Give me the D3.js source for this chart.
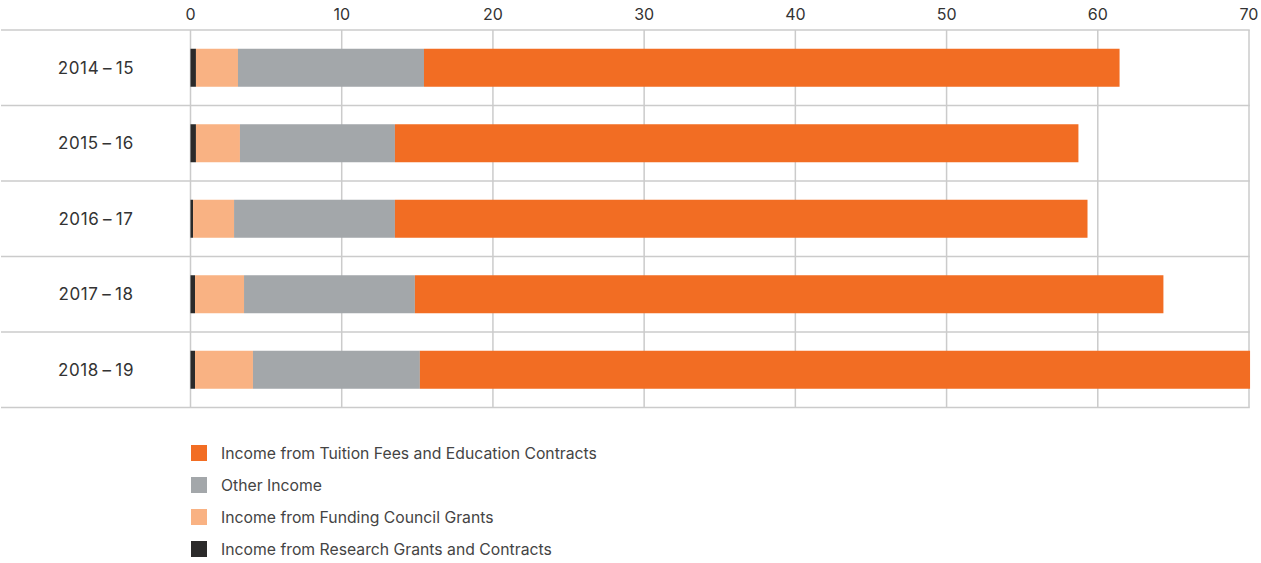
<!DOCTYPE html>
<html>
<head>
<meta charset="utf-8">
<script src="https://cdn.jsdelivr.net/npm/d3@7"></script>
<style>
  body { margin: 0; background: #fff; }
  svg text { font-family: Inter, "Noto Sans", sans-serif; }
</style>
</head>
<body>
<svg id="chart" width="1261" height="563"></svg>
<script>
var years = ["2014\u2009–\u200915", "2015\u2009–\u200916", "2016\u2009–\u200917", "2017\u2009–\u200918", "2018\u2009–\u200919"];
var research = [0.36, 0.36, 0.17, 0.3, 0.3];
var funding = [2.78, 2.91, 2.71, 3.24, 3.83];
var other = [12.3, 10.25, 10.64, 11.3, 11.04];
var tuition = [46.0, 45.2, 45.8, 49.5, 54.9];
var xTicks = [0, 10, 20, 30, 40, 50, 60, 70];

var seriesNames = ["Income from Research Grants and Contracts", "Income from Funding Council Grants",
  "Other Income", "Income from Tuition Fees and Education Contracts"];
var seriesColors = ["#2b2a2a", "#f9b283", "#a3a7aa", "#f26d23"];

var svg = d3.select("#chart");
var x = d3.scaleLinear().domain([0, 70]).range([190.5, 1249]);
var y = d3.scaleBand().domain(years).range([30, 407.5]).paddingInner(0).paddingOuter(0);

// build rows for the stack
var rows = years.map(function(yr, i) {
  return {year: yr, research: research[i], funding: funding[i], other: other[i], tuition: tuition[i]};
});
var keys = ["research", "funding", "other", "tuition"];
var stack = d3.stack().keys(keys)(rows);

// grid
var grid = svg.append("g");
grid.selectAll("line.v")
  .data(xTicks)
  .enter().append("line")
    .attr("x1", function(d) { return x(d); })
    .attr("x2", function(d) { return x(d); })
    .attr("y1", 30).attr("y2", 407.5)
    .attr("stroke", "#cbcbcb").attr("stroke-width", 1.5);

var hLines = years.map(function(d) { return y(d); }).concat([407.5]);
grid.selectAll("line.h")
  .data(hLines)
  .enter().append("line")
    .attr("x1", 1).attr("x2", x(70) + 0.75)
    .attr("y1", function(d) { return d; })
    .attr("y2", function(d) { return d; })
    .attr("stroke", "#cbcbcb").attr("stroke-width", 1.5);

// bars
var barH = 38;
svg.append("g").selectAll("g")
  .data(stack)
  .enter().append("g")
    .attr("fill", function(d, i) { return seriesColors[i]; })
  .selectAll("rect")
  .data(function(d) { return d; })
  .enter().append("rect")
    .attr("x", function(d) { return x(d[0]); })
    .attr("width", function(d) { return x(d[1]) - x(d[0]); })
    .attr("y", function(d) { return y(d.data.year) + (y.bandwidth() - barH) / 2; })
    .attr("height", barH);

// top axis labels
svg.append("g").selectAll("text")
  .data(xTicks)
  .enter().append("text")
    .attr("x", function(d) { return x(d); })
    .attr("y", 20)
    .attr("text-anchor", "middle")
    .attr("font-size", 16)
    .attr("fill", "#333")
    .text(function(d) { return d; });

// row labels
svg.append("g").selectAll("text")
  .data(years)
  .enter().append("text")
    .attr("x", 96)
    .attr("y", function(d) { return y(d) + y.bandwidth() / 2 + 6; })
    .attr("text-anchor", "middle")
    .attr("font-size", 17)
    .attr("letter-spacing", 0.6)
    .attr("fill", "#333")
    .text(function(d) { return d; });

// legend (tuition first, research last)
var legendOrder = [3, 2, 1, 0];
var legend = svg.append("g").selectAll("g")
  .data(legendOrder)
  .enter().append("g")
    .attr("transform", function(d, i) { return "translate(191," + (445 + i * 32) + ")"; });
legend.append("rect")
  .attr("width", 16).attr("height", 16)
  .attr("fill", function(d) { return seriesColors[d]; });
legend.append("text")
  .attr("x", 30).attr("y", 13.5)
  .attr("font-size", 15.75)
  .attr("fill", "#444")
  .text(function(d) { return seriesNames[d]; });
</script>
</body>
</html>
